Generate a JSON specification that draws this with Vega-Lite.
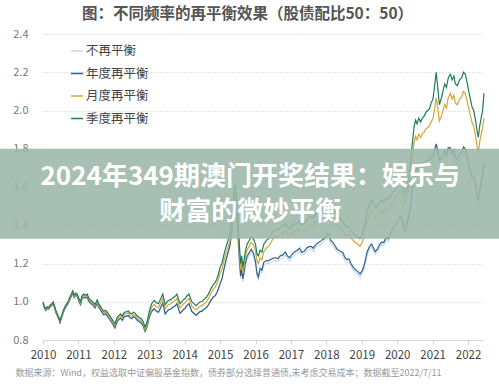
{
  "$schema": "https://vega.github.io/schema/vega-lite/v6.json",
  "autosize": {"type": "none"},
  "padding": {"left": 43, "top": 34, "right": 15, "bottom": 47},
  "width": 441,
  "height": 306,
  "background": "white",
  "config": {
    "font": "Noto Sans CJK SC",
    "view": {"stroke": null},
    "axis": {"labelOverlap": false, "labelFlush": false},
    "axisX": {
      "grid": false,
      "domainColor": "#d6d6d6",
      "tickColor": "#d6d6d6",
      "tickSize": 4,
      "tickCount": 30,
      "labelPadding": 5,
      "labelFontSize": 11.5,
      "labelColor": "#444444",
      "labelOverlap": false,
      "labelFlush": false
    },
    "axisY": {
      "domain": false,
      "ticks": false,
      "tickSize": 0,
      "tickCount": 30,
      "labelPadding": 15,
      "labelFontSize": 11,
      "labelColor": "#777777",
      "labelOverlap": false,
      "labelFlush": false,
      "gridColor": "#cccccc",
      "gridDash": [1, 2],
      "gridWidth": 1
    }
  },
  "title": {
    "text": "图：不同频率的再平衡效果（股债配比50：50）",
    "fontSize": 15.5,
    "fontWeight": "bold",
    "color": "#555555",
    "anchor": "middle",
    "frame": "group",
    "dx": -16,
    "offset": 6
  },
  "layer": [
    {
      "data": {"values": [
{"t":2010.00,"不再平衡":0.989,"年度再平衡":0.992,"月度再平衡":0.996,"季度再平衡":1.000},
{"t":2010.04,"不再平衡":0.964,"年度再平衡":0.967,"月度再平衡":0.971,"季度再平衡":0.975},
{"t":2010.08,"不再平衡":0.952,"年度再平衡":0.955,"月度再平衡":0.959,"季度再平衡":0.963},
{"t":2010.12,"不再平衡":0.964,"年度再平衡":0.967,"月度再平衡":0.971,"季度再平衡":0.975},
{"t":2010.16,"不再平衡":0.959,"年度再平衡":0.962,"月度再平衡":0.966,"季度再平衡":0.970},
{"t":2010.20,"不再平衡":0.970,"年度再平衡":0.973,"月度再平衡":0.978,"季度再平衡":0.982},
{"t":2010.25,"不再平衡":0.978,"年度再平衡":0.981,"月度再平衡":0.986,"季度再平衡":0.990},
{"t":2010.29,"不再平衡":0.988,"年度再平衡":0.991,"月度再平衡":0.996,"季度再平衡":1.000},
{"t":2010.33,"不再平衡":0.963,"年度再平衡":0.966,"月度再平衡":0.971,"季度再平衡":0.975},
{"t":2010.37,"不再平衡":0.938,"年度再平衡":0.941,"月度再平衡":0.946,"季度再平衡":0.950},
{"t":2010.41,"不再平衡":0.923,"年度再平衡":0.926,"月度再平衡":0.931,"季度再平衡":0.935},
{"t":2010.45,"不再平衡":0.906,"年度再平衡":0.909,"月度再平衡":0.914,"季度再平衡":0.918},
{"t":2010.48,"不再平衡":0.888,"年度再平衡":0.891,"月度再平衡":0.896,"季度再平衡":0.900},
{"t":2010.52,"不再平衡":0.912,"年度再平衡":0.915,"月度再平衡":0.920,"季度再平衡":0.925},
{"t":2010.57,"不再平衡":0.940,"年度再平衡":0.943,"月度再平衡":0.948,"季度再平衡":0.953},
{"t":2010.62,"不再平衡":0.962,"年度再平衡":0.965,"月度再平衡":0.970,"季度再平衡":0.975},
{"t":2010.67,"不再平衡":0.977,"年度再平衡":0.980,"月度再平衡":0.985,"季度再平衡":0.990},
{"t":2010.72,"不再平衡":0.992,"年度再平衡":0.995,"月度再平衡":1.000,"季度再平衡":1.005},
{"t":2010.76,"不再平衡":1.012,"年度再平衡":1.015,"月度再平衡":1.020,"季度再平衡":1.025},
{"t":2010.80,"不再平衡":1.027,"年度再平衡":1.030,"月度再平衡":1.035,"季度再平衡":1.040},
{"t":2010.84,"不再平衡":1.043,"年度再平衡":1.046,"月度再平衡":1.052,"季度再平衡":1.057},
{"t":2010.88,"不再平衡":1.021,"年度再平衡":1.024,"月度再平衡":1.030,"季度再平衡":1.035},
{"t":2010.92,"不再平衡":1.031,"年度再平衡":1.034,"月度再平衡":1.040,"季度再平衡":1.045},
{"t":2010.97,"不再平衡":1.026,"年度再平衡":1.029,"月度再平衡":1.035,"季度再平衡":1.040},
{"t":2011.02,"不再平衡":0.997,"年度再平衡":1.000,"月度再平衡":1.008,"季度再平衡":1.015},
{"t":2011.06,"不再平衡":0.982,"年度再平衡":0.985,"月度再平衡":0.993,"季度再平衡":1.000},
{"t":2011.10,"不再平衡":1.012,"年度再平衡":1.015,"月度再平衡":1.023,"季度再平衡":1.030},
{"t":2011.14,"不再平衡":1.022,"年度再平衡":1.025,"月度再平衡":1.033,"季度再平衡":1.040},
{"t":2011.20,"不再平衡":1.017,"年度再平衡":1.020,"月度再平衡":1.028,"季度再平衡":1.035},
{"t":2011.25,"不再平衡":1.021,"年度再平衡":1.024,"月度再平衡":1.033,"季度再平衡":1.040},
{"t":2011.29,"不再平衡":1.001,"年度再平衡":1.004,"月度再平衡":1.013,"季度再平衡":1.020},
{"t":2011.33,"不再平衡":0.991,"年度再平衡":0.994,"月度再平衡":1.003,"季度再平衡":1.010},
{"t":2011.40,"不再平衡":0.981,"年度再平衡":0.984,"月度再平衡":0.992,"季度再平衡":1.000},
{"t":2011.47,"不再平衡":0.965,"年度再平衡":0.968,"月度再平衡":0.977,"季度再平衡":0.985},
{"t":2011.53,"不再平衡":0.990,"年度再平衡":0.993,"月度再平衡":1.002,"季度再平衡":1.010},
{"t":2011.57,"不再平衡":0.970,"年度再平衡":0.973,"月度再平衡":0.982,"季度再平衡":0.990},
{"t":2011.61,"不再平衡":0.959,"年度再平衡":0.962,"月度再平衡":0.972,"季度再平衡":0.980},
{"t":2011.66,"不再平衡":0.944,"年度再平衡":0.947,"月度再平衡":0.957,"季度再平衡":0.965},
{"t":2011.71,"不再平衡":0.929,"年度再平衡":0.932,"月度再平衡":0.942,"季度再平衡":0.950},
{"t":2011.76,"不再平衡":0.934,"年度再平衡":0.937,"月度再平衡":0.947,"季度再平衡":0.955},
{"t":2011.82,"不再平衡":0.922,"年度再平衡":0.925,"月度再平衡":0.936,"季度再平衡":0.944},
{"t":2011.87,"不再平衡":0.908,"年度再平衡":0.911,"月度再平衡":0.922,"季度再平衡":0.930},
{"t":2011.91,"不再平衡":0.898,"年度再平衡":0.901,"月度再平衡":0.912,"季度再平衡":0.920},
{"t":2011.96,"不再平衡":0.883,"年度再平衡":0.886,"月度再平衡":0.897,"季度再平衡":0.905},
{"t":2012.03,"不再平衡":0.861,"年度再平衡":0.864,"月度再平衡":0.876,"季度再平衡":0.885},
{"t":2012.07,"不再平衡":0.881,"年度再平衡":0.884,"月度再平衡":0.896,"季度再平衡":0.905},
{"t":2012.10,"不再平衡":0.896,"年度再平衡":0.899,"月度再平衡":0.911,"季度再平衡":0.920},
{"t":2012.15,"不再平衡":0.906,"年度再平衡":0.909,"月度再平衡":0.921,"季度再平衡":0.930},
{"t":2012.19,"不再平衡":0.912,"年度再平衡":0.915,"月度再平衡":0.928,"季度再平衡":0.937},
{"t":2012.24,"不再平衡":0.900,"年度再平衡":0.903,"月度再平衡":0.916,"季度再平衡":0.925},
{"t":2012.29,"不再平衡":0.919,"年度再平衡":0.922,"月度再平衡":0.935,"季度再平衡":0.944},
{"t":2012.35,"不再平衡":0.922,"年度再平衡":0.925,"月度再平衡":0.938,"季度再平衡":0.948},
{"t":2012.41,"不再平衡":0.925,"年度再平衡":0.928,"月度再平衡":0.942,"季度再平衡":0.952},
{"t":2012.46,"不再平衡":0.913,"年度再平衡":0.916,"月度再平衡":0.929,"季度再平衡":0.940},
{"t":2012.51,"不再平衡":0.909,"年度再平衡":0.912,"月度再平衡":0.925,"季度再平衡":0.937},
{"t":2012.55,"不再平衡":0.920,"年度再平衡":0.923,"月度再平衡":0.933,"季度再平衡":0.945},
{"t":2012.60,"不再平衡":0.915,"年度再平衡":0.918,"月度再平衡":0.928,"季度再平衡":0.940},
{"t":2012.65,"不再平衡":0.903,"年度再平衡":0.906,"月度再平衡":0.916,"季度再平衡":0.928},
{"t":2012.70,"不再平衡":0.895,"年度再平衡":0.898,"月度再平衡":0.908,"季度再平衡":0.920},
{"t":2012.74,"不再平衡":0.890,"年度再平衡":0.893,"月度再平衡":0.903,"季度再平衡":0.915},
{"t":2012.78,"不再平衡":0.885,"年度再平衡":0.888,"月度再平衡":0.898,"季度再平衡":0.910},
{"t":2012.83,"不再平衡":0.870,"年度再平衡":0.873,"月度再平衡":0.883,"季度再平衡":0.895},
{"t":2012.88,"不再平衡":0.843,"年度再平衡":0.846,"月度再平衡":0.856,"季度再平衡":0.868},
{"t":2012.92,"不再平衡":0.858,"年度再平衡":0.861,"月度再平衡":0.872,"季度再平衡":0.885},
{"t":2012.95,"不再平衡":0.876,"年度再平衡":0.879,"月度再平衡":0.891,"季度再平衡":0.905},
{"t":2013.00,"不再平衡":0.915,"年度再平衡":0.918,"月度再平衡":0.934,"季度再平衡":0.950},
{"t":2013.04,"不再平衡":0.935,"年度再平衡":0.938,"月度再平衡":0.957,"季度再平衡":0.975},
{"t":2013.07,"不再平衡":0.947,"年度再平衡":0.950,"月度再平衡":0.970,"季度再平衡":0.990},
{"t":2013.11,"不再平衡":0.955,"年度再平衡":0.958,"月度再平衡":0.980,"季度再平衡":1.000},
{"t":2013.14,"不再平衡":0.961,"年度再平衡":0.964,"月度再平衡":0.986,"季度再平衡":1.007},
{"t":2013.20,"不再平衡":0.948,"年度再平衡":0.951,"月度再平衡":0.974,"季度再平衡":0.995},
{"t":2013.26,"不再平衡":0.942,"年度再平衡":0.945,"月度再平衡":0.969,"季度再平衡":0.990},
{"t":2013.32,"不再平衡":0.966,"年度再平衡":0.969,"月度再平衡":0.994,"季度再平衡":1.015},
{"t":2013.38,"不再平衡":0.990,"年度再平衡":0.993,"月度再平衡":1.019,"季度再平衡":1.040},
{"t":2013.42,"不再平衡":0.960,"年度再平衡":0.963,"月度再平衡":0.989,"季度再平衡":1.010},
{"t":2013.45,"不再平衡":0.934,"年度再平衡":0.937,"月度再平衡":0.964,"季度再平衡":0.985},
{"t":2013.49,"不再平衡":0.944,"年度再平衡":0.947,"月度再平衡":0.973,"季度再平衡":0.995},
{"t":2013.54,"不再平衡":0.955,"年度再平衡":0.958,"月度再平衡":0.985,"季度再平衡":1.007},
{"t":2013.59,"不再平衡":0.958,"年度再平衡":0.961,"月度再平衡":0.988,"季度再平衡":1.010},
{"t":2013.64,"不再平衡":0.964,"年度再平衡":0.967,"月度再平衡":0.994,"季度再平衡":1.016},
{"t":2013.70,"不再平衡":0.972,"年度再平衡":0.975,"月度再平衡":1.003,"季度再平衡":1.025},
{"t":2013.74,"不再平衡":0.977,"年度再平衡":0.980,"月度再平衡":1.008,"季度再平衡":1.030},
{"t":2013.78,"不再平衡":0.987,"年度再平衡":0.990,"月度再平衡":1.018,"季度再平衡":1.040},
{"t":2013.83,"不再平衡":0.957,"年度再平衡":0.960,"月度再平衡":0.988,"季度再平衡":1.010},
{"t":2013.87,"不再平衡":0.937,"年度再平衡":0.940,"月度再平衡":0.968,"季度再平衡":0.990},
{"t":2013.92,"不再平衡":0.947,"年度再平衡":0.950,"月度再平衡":0.978,"季度再平衡":1.000},
{"t":2013.96,"不再平衡":0.957,"年度再平衡":0.960,"月度再平衡":0.988,"季度再平衡":1.010},
{"t":2014.01,"不再平衡":0.963,"年度再平衡":0.966,"月度再平衡":0.994,"季度再平衡":1.016},
{"t":2014.06,"不再平衡":0.977,"年度再平衡":0.980,"月度再平衡":1.007,"季度再平衡":1.030},
{"t":2014.12,"不再平衡":0.987,"年度再平衡":0.990,"月度再平衡":1.017,"季度再平衡":1.040},
{"t":2014.16,"不再平衡":0.967,"年度再平衡":0.970,"月度再平衡":0.997,"季度再平衡":1.020},
{"t":2014.20,"不再平衡":0.947,"年度再平衡":0.950,"月度再平衡":0.977,"季度再平衡":1.000},
{"t":2014.26,"不再平衡":0.937,"年度再平衡":0.940,"月度再平衡":0.967,"季度再平衡":0.990},
{"t":2014.33,"不再平衡":0.927,"年度再平衡":0.930,"月度再平衡":0.957,"季度再平衡":0.980},
{"t":2014.38,"不再平衡":0.937,"年度再平衡":0.940,"月度再平衡":0.967,"季度再平衡":0.990},
{"t":2014.44,"不再平衡":0.947,"年度再平衡":0.950,"月度再平衡":0.977,"季度再平衡":1.000},
{"t":2014.48,"不再平衡":0.947,"年度再平衡":0.950,"月度再平衡":0.977,"季度再平衡":1.000},
{"t":2014.53,"不再平衡":0.956,"年度再平衡":0.959,"月度再平衡":0.987,"季度再平衡":1.010},
{"t":2014.57,"不再平衡":0.961,"年度再平衡":0.964,"月度再平衡":0.992,"季度再平衡":1.016},
{"t":2014.62,"不再平衡":0.968,"年度再平衡":0.971,"月度再平衡":1.001,"季度再平衡":1.025},
{"t":2014.67,"不再平衡":0.981,"年度再平衡":0.984,"月度再平衡":1.016,"季度再平衡":1.040},
{"t":2014.72,"不再平衡":0.999,"年度再平衡":1.002,"月度再平衡":1.036,"季度再平衡":1.060},
{"t":2014.76,"不再平衡":1.011,"年度再平衡":1.014,"月度再平衡":1.051,"季度再平衡":1.075},
{"t":2014.81,"不再平衡":1.023,"年度再平衡":1.026,"月度再平衡":1.066,"季度再平衡":1.090},
{"t":2014.86,"不再平衡":1.029,"年度再平衡":1.032,"月度再平衡":1.076,"季度再平衡":1.100},
{"t":2014.91,"不再平衡":1.045,"年度再平衡":1.048,"月度再平衡":1.095,"季度再平衡":1.120},
{"t":2014.96,"不再平衡":1.069,"年度再平衡":1.072,"月度再平衡":1.123,"季度再平衡":1.150},
{"t":2015.00,"不再平衡":1.092,"年度再平衡":1.095,"月度再平衡":1.150,"季度再平衡":1.180},
{"t":2015.05,"不再平衡":1.113,"年度再平衡":1.118,"月度再平衡":1.169,"季度再平衡":1.200},
{"t":2015.10,"不再平衡":1.157,"年度再平衡":1.163,"月度再平衡":1.209,"季度再平衡":1.240},
{"t":2015.14,"不再平衡":1.191,"年度再平衡":1.198,"月度再平衡":1.238,"季度再平衡":1.270},
{"t":2015.19,"不再平衡":1.227,"年度再平衡":1.235,"月度再平衡":1.267,"季度再平衡":1.300},
{"t":2015.24,"不再平衡":1.261,"年度再平衡":1.270,"月度再平衡":1.296,"季度再平衡":1.330},
{"t":2015.28,"不再平衡":1.290,"年度再平衡":1.300,"月度再平衡":1.320,"季度再平衡":1.355},
{"t":2015.32,"不再平衡":1.344,"年度再平衡":1.355,"月度再平衡":1.384,"季度再平衡":1.420},
{"t":2015.36,"不再平衡":1.416,"年度再平衡":1.428,"月度再平衡":1.463,"季度再平衡":1.500},
{"t":2015.40,"不再平衡":1.487,"年度再平衡":1.500,"月度再平衡":1.542,"季度再平衡":1.580},
{"t":2015.43,"不再平衡":1.516,"年度再平衡":1.530,"月度再平衡":1.580,"季度再平衡":1.620},
{"t":2015.46,"不再平衡":1.458,"年度再平衡":1.472,"月度再平衡":1.521,"季度再平衡":1.560},
{"t":2015.49,"不再平衡":1.381,"年度再平衡":1.395,"月度再平衡":1.442,"季度再平衡":1.480},
{"t":2015.52,"不再平衡":1.286,"年度再平衡":1.300,"月度再平衡":1.343,"季度再平衡":1.380},
{"t":2015.55,"不再平衡":1.193,"年度再平衡":1.207,"月度再平衡":1.245,"季度再平衡":1.280},
{"t":2015.58,"不再平衡":1.120,"年度再平衡":1.135,"月度再平衡":1.167,"季度再平衡":1.200},
{"t":2015.61,"不再平衡":1.165,"年度再平衡":1.180,"月度再平衡":1.208,"季度再平衡":1.240},
{"t":2015.64,"不再平衡":1.105,"年度再平衡":1.120,"月度再平衡":1.149,"季度再平衡":1.180},
{"t":2015.67,"不再平衡":1.135,"年度再平衡":1.150,"月度再平衡":1.180,"季度再平衡":1.210},
{"t":2015.71,"不再平衡":1.183,"年度再平衡":1.198,"月度再平衡":1.230,"季度再平衡":1.260},
{"t":2015.76,"不再平衡":1.222,"年度再平衡":1.237,"月度再平衡":1.270,"季度再平衡":1.300},
{"t":2015.82,"不再平衡":1.241,"年度再平衡":1.256,"月度再平衡":1.290,"季度再平衡":1.320},
{"t":2015.88,"不再平衡":1.260,"年度再平衡":1.275,"月度再平衡":1.310,"季度再平衡":1.340},
{"t":2015.94,"不再平衡":1.240,"年度再平衡":1.255,"月度再平衡":1.299,"季度再平衡":1.330},
{"t":2016.00,"不再平衡":1.195,"年度再平衡":1.210,"月度再平衡":1.266,"季度再平衡":1.300},
{"t":2016.04,"不再平衡":1.135,"年度再平衡":1.150,"月度再平衡":1.213,"季度再平衡":1.250},
{"t":2016.08,"不再平衡":1.115,"年度再平衡":1.130,"月度再平衡":1.200,"季度再平衡":1.240},
{"t":2016.13,"不再平衡":1.160,"年度再平衡":1.175,"月度再平衡":1.230,"季度再平衡":1.270},
{"t":2016.18,"不再平衡":1.150,"年度再平衡":1.165,"月度再平衡":1.220,"季度再平衡":1.260},
{"t":2016.23,"不再平衡":1.190,"年度再平衡":1.205,"月度再平衡":1.260,"季度再平衡":1.300},
{"t":2016.30,"不再平衡":1.200,"年度再平衡":1.215,"月度再平衡":1.280,"季度再平衡":1.320},
{"t":2016.37,"不再平衡":1.200,"年度再平衡":1.215,"月度再平衡":1.291,"季度再平衡":1.330},
{"t":2016.44,"不再平衡":1.207,"年度再平衡":1.222,"月度再平衡":1.311,"季度再平衡":1.350},
{"t":2016.50,"不再平衡":1.213,"年度再平衡":1.228,"月度再平衡":1.332,"季度再平衡":1.370},
{"t":2016.57,"不再平衡":1.215,"年度再平衡":1.230,"月度再平衡":1.342,"季度再平衡":1.380},
{"t":2016.63,"不再平衡":1.210,"年度再平衡":1.225,"月度再平衡":1.338,"季度再平衡":1.375},
{"t":2016.70,"不再平衡":1.225,"年度再平衡":1.240,"月度再平衡":1.353,"季度再平衡":1.390},
{"t":2016.77,"不再平衡":1.230,"年度再平衡":1.245,"月度再平衡":1.359,"季度再平衡":1.395},
{"t":2016.84,"不再平衡":1.245,"年度再平衡":1.260,"月度再平衡":1.374,"季度再平衡":1.410},
{"t":2016.90,"不再平衡":1.225,"年度再平衡":1.240,"月度再平衡":1.355,"季度再平衡":1.390},
{"t":2016.96,"不再平衡":1.215,"年度再平衡":1.230,"月度再平衡":1.345,"季度再平衡":1.380},
{"t":2017.03,"不再平衡":1.233,"年度再平衡":1.248,"月度再平衡":1.359,"季度再平衡":1.395},
{"t":2017.10,"不再平衡":1.245,"年度再平衡":1.260,"月度再平衡":1.368,"季度再平衡":1.405},
{"t":2017.17,"不再平衡":1.253,"年度再平衡":1.268,"月度再平衡":1.372,"季度再平衡":1.410},
{"t":2017.24,"不再平衡":1.265,"年度再平衡":1.280,"月度再平衡":1.381,"季度再平衡":1.420},
{"t":2017.31,"不再平衡":1.243,"年度再平衡":1.258,"月度再平衡":1.360,"季度再平衡":1.400},
{"t":2017.38,"不再平衡":1.250,"年度再平衡":1.265,"月度再平衡":1.369,"季度再平衡":1.410},
{"t":2017.45,"不再平衡":1.267,"年度再平衡":1.282,"月度再平衡":1.388,"季度再平衡":1.430},
{"t":2017.52,"不再平衡":1.273,"年度再平衡":1.288,"月度再平衡":1.397,"季度再平衡":1.440},
{"t":2017.58,"不再平衡":1.275,"年度再平衡":1.290,"月度再平衡":1.401,"季度再平衡":1.445},
{"t":2017.63,"不再平衡":1.265,"年度再平衡":1.280,"月度再平衡":1.395,"季度再平衡":1.440},
{"t":2017.70,"不再平衡":1.284,"年度再平衡":1.299,"月度再平衡":1.414,"季度再平衡":1.460},
{"t":2017.77,"不再平衡":1.293,"年度再平衡":1.308,"月度再平衡":1.423,"季度再平衡":1.470},
{"t":2017.84,"不再平衡":1.302,"年度再平衡":1.317,"月度再平衡":1.432,"季度再平衡":1.480},
{"t":2017.90,"不再平衡":1.311,"年度再平衡":1.326,"月度再平衡":1.441,"季度再平衡":1.490},
{"t":2017.96,"不再平衡":1.318,"年度再平衡":1.333,"月度再平衡":1.450,"季度再平衡":1.500},
{"t":2018.03,"不再平衡":1.342,"年度再平衡":1.357,"月度再平衡":1.480,"季度再平衡":1.530},
{"t":2018.08,"不再平衡":1.342,"年度再平衡":1.357,"月度再平衡":1.485,"季度再平衡":1.535},
{"t":2018.12,"不再平衡":1.305,"年度再平衡":1.320,"月度再平衡":1.450,"季度再平衡":1.500},
{"t":2018.18,"不再平衡":1.297,"年度再平衡":1.312,"月度再平衡":1.440,"季度再平衡":1.490},
{"t":2018.24,"不再平衡":1.279,"年度再平衡":1.294,"月度再平衡":1.420,"季度再平衡":1.470},
{"t":2018.30,"不再平衡":1.261,"年度再平衡":1.276,"月度再平衡":1.400,"季度再平衡":1.450},
{"t":2018.36,"不再平衡":1.253,"年度再平衡":1.268,"月度再平衡":1.390,"季度再平衡":1.440},
{"t":2018.42,"不再平衡":1.246,"年度再平衡":1.261,"月度再平衡":1.380,"季度再平衡":1.430},
{"t":2018.47,"不再平衡":1.240,"年度再平衡":1.255,"月度再平衡":1.370,"季度再平衡":1.420},
{"t":2018.52,"不再平衡":1.218,"年度再平衡":1.233,"月度再平衡":1.352,"季度再平衡":1.400},
{"t":2018.58,"不再平衡":1.206,"年度再平衡":1.221,"月度再平衡":1.345,"季度再平衡":1.390},
{"t":2018.64,"不再平衡":1.209,"年度再平衡":1.224,"月度再平衡":1.353,"季度再平衡":1.395},
{"t":2018.70,"不再平衡":1.182,"年度再平衡":1.197,"月度再平衡":1.331,"季度再平衡":1.370},
{"t":2018.76,"不再平衡":1.165,"年度再平衡":1.180,"月度再平衡":1.320,"季度再平衡":1.355},
{"t":2018.82,"不再平衡":1.152,"年度再平衡":1.167,"月度再平衡":1.309,"季度再平衡":1.345},
{"t":2018.88,"不再平衡":1.144,"年度再平衡":1.159,"月度再平衡":1.302,"季度再平衡":1.340},
{"t":2018.95,"不再平衡":1.130,"年度再平衡":1.145,"月度再平衡":1.290,"季度再平衡":1.330},
{"t":2019.02,"不再平衡":1.150,"年度再平衡":1.165,"月度再平衡":1.314,"季度再平衡":1.355},
{"t":2019.08,"不再平衡":1.185,"年度再平衡":1.200,"月度再平衡":1.357,"季度再平衡":1.400},
{"t":2019.15,"不再平衡":1.245,"年度再平衡":1.260,"月度再平衡":1.425,"季度再平衡":1.470},
{"t":2019.22,"不再平衡":1.275,"年度再平衡":1.290,"月度再平衡":1.463,"季度再平衡":1.510},
{"t":2019.28,"不再平衡":1.287,"年度再平衡":1.302,"月度再平衡":1.481,"季度再平衡":1.530},
{"t":2019.33,"不再平衡":1.265,"年度再平衡":1.280,"月度再平衡":1.460,"季度再平衡":1.510},
{"t":2019.38,"不再平衡":1.247,"年度再平衡":1.262,"月度再平衡":1.439,"季度再平衡":1.490},
{"t":2019.44,"不再平衡":1.260,"年度再平衡":1.275,"月度再平衡":1.448,"季度再平衡":1.500},
{"t":2019.50,"不再平衡":1.283,"年度再平衡":1.298,"月度再平衡":1.467,"季度再平衡":1.520},
{"t":2019.56,"不再平衡":1.297,"年度再平衡":1.312,"月度再平衡":1.476,"季度再平衡":1.530},
{"t":2019.62,"不再平衡":1.295,"年度再平衡":1.310,"月度再平衡":1.465,"季度再平衡":1.520},
{"t":2019.68,"不再平衡":1.319,"年度再平衡":1.334,"月度再平衡":1.486,"季度再平衡":1.540},
{"t":2019.74,"不再平衡":1.313,"年度再平衡":1.328,"月度再平衡":1.477,"季度再平衡":1.530},
{"t":2019.80,"不再平衡":1.337,"年度再平衡":1.352,"月度再平衡":1.498,"季度再平衡":1.550},
{"t":2019.86,"不再平衡":1.361,"年度再平衡":1.376,"月度再平衡":1.519,"季度再平衡":1.570},
{"t":2019.92,"不再平衡":1.370,"年度再平衡":1.390,"月度再平衡":1.530,"季度再平衡":1.580},
{"t":2019.98,"不再平衡":1.392,"年度再平衡":1.412,"月度再平衡":1.550,"季度再平衡":1.600},
{"t":2020.04,"不再平衡":1.413,"年度再平衡":1.435,"月度再平衡":1.570,"季度再平衡":1.620},
{"t":2020.10,"不再平衡":1.426,"年度再平衡":1.448,"月度再平衡":1.580,"季度再平衡":1.630},
{"t":2020.16,"不再平衡":1.395,"年度再平衡":1.418,"月度再平衡":1.550,"季度再平衡":1.600},
{"t":2020.21,"不再平衡":1.349,"年度再平衡":1.372,"月度再平衡":1.510,"季度再平衡":1.560},
{"t":2020.26,"不再平衡":1.375,"年度再平衡":1.398,"月度再平衡":1.538,"季度再平衡":1.590},
{"t":2020.31,"不再平衡":1.416,"年度再平衡":1.440,"月度再平衡":1.584,"季度再平衡":1.640},
{"t":2020.36,"不再平衡":1.456,"年度再平衡":1.480,"月度再平衡":1.629,"季度再平衡":1.690},
{"t":2020.40,"不再平衡":1.531,"年度再平衡":1.555,"月度再平衡":1.712,"季度再平衡":1.780},
{"t":2020.44,"不再平衡":1.588,"年度再平衡":1.612,"月度再平衡":1.776,"季度再平衡":1.850},
{"t":2020.48,"不再平衡":1.647,"年度再平衡":1.672,"月度再平衡":1.838,"季度再平衡":1.920},
{"t":2020.52,"不再平衡":1.675,"年度再平衡":1.700,"月度再平衡":1.865,"季度再平衡":1.950},
{"t":2020.56,"不再平衡":1.659,"年度再平衡":1.684,"月度再平衡":1.846,"季度再平衡":1.930},
{"t":2020.61,"不再平衡":1.693,"年度再平衡":1.718,"月度再平衡":1.877,"季度再平衡":1.960},
{"t":2020.66,"不再平衡":1.677,"年度再平衡":1.702,"月度再平衡":1.858,"季度再平衡":1.940},
{"t":2020.71,"不再平衡":1.703,"年度再平衡":1.728,"月度再平衡":1.880,"季度再平衡":1.960},
{"t":2020.76,"不再平衡":1.703,"年度再平衡":1.728,"月度再平衡":1.887,"季度再平衡":1.970},
{"t":2020.81,"不再平衡":1.715,"年度再平衡":1.740,"月度再平衡":1.904,"季度再平衡":1.990},
{"t":2020.86,"不再平衡":1.715,"年度再平衡":1.740,"月度再平衡":1.911,"季度再平衡":2.000},
{"t":2020.91,"不再平衡":1.715,"年度再平衡":1.740,"月度再平衡":1.920,"季度再平衡":2.010},
{"t":2020.96,"不再平衡":1.732,"年度再平衡":1.757,"月度再平衡":1.943,"季度再平衡":2.040},
{"t":2021.01,"不再平衡":1.737,"年度再平衡":1.762,"月度再平衡":1.955,"季度再平衡":2.060},
{"t":2021.05,"不再平衡":1.765,"年度再平衡":1.790,"月度再平衡":2.002,"季度再平衡":2.120},
{"t":2021.10,"不再平衡":1.800,"年度再平衡":1.825,"月度再平衡":2.065,"季度再平衡":2.200},
{"t":2021.14,"不再平衡":1.770,"年度再平衡":1.795,"月度再平衡":2.020,"季度再平衡":2.130},
{"t":2021.19,"不再平衡":1.715,"年度再平衡":1.740,"月度再平衡":1.945,"季度再平衡":2.030},
{"t":2021.24,"不再平衡":1.725,"年度再平衡":1.750,"月度再平衡":1.967,"季度再平衡":2.060},
{"t":2021.29,"不再平衡":1.745,"年度再平衡":1.770,"月度再平衡":1.999,"季度再平衡":2.100},
{"t":2021.34,"不再平衡":1.768,"年度再平衡":1.793,"月度再平衡":2.032,"季度再平衡":2.140},
{"t":2021.39,"不再平衡":1.740,"年度再平衡":1.765,"月度再平衡":2.013,"季度再平衡":2.120},
{"t":2021.44,"不再平衡":1.781,"年度再平衡":1.806,"月度再平衡":2.066,"季度再平衡":2.170},
{"t":2021.50,"不再平衡":1.780,"年度再平衡":1.805,"月度再平衡":2.090,"季度再平衡":2.190},
{"t":2021.55,"不再平衡":1.750,"年度再平衡":1.775,"月度再平衡":2.060,"季度再平衡":2.160},
{"t":2021.60,"不再平衡":1.770,"年度再平衡":1.795,"月度再平衡":2.080,"季度再平衡":2.180},
{"t":2021.64,"不再平衡":1.730,"年度再平衡":1.755,"月度再平衡":2.040,"季度再平衡":2.140},
{"t":2021.70,"不再平衡":1.718,"年度再平衡":1.743,"月度再平衡":2.030,"季度再平衡":2.130},
{"t":2021.76,"不再平衡":1.747,"年度再平衡":1.772,"月度再平衡":2.060,"季度再平衡":2.160},
{"t":2021.82,"不再平衡":1.756,"年度再平衡":1.781,"月度再平衡":2.070,"季度再平衡":2.170},
{"t":2021.87,"不再平衡":1.785,"年度再平衡":1.810,"月度再平衡":2.100,"季度再平衡":2.200},
{"t":2021.92,"不再平衡":1.775,"年度再平衡":1.800,"月度再平衡":2.090,"季度再平衡":2.190},
{"t":2021.97,"不再平衡":1.740,"年度再平衡":1.765,"月度再平衡":2.053,"季度再平衡":2.150},
{"t":2022.02,"不再平衡":1.695,"年度再平衡":1.720,"月度再平衡":2.008,"季度再平衡":2.100},
{"t":2022.06,"不再平衡":1.665,"年度再平衡":1.690,"月度再平衡":1.980,"季度再平衡":2.065},
{"t":2022.11,"不再平衡":1.631,"年度再平衡":1.656,"月度再平衡":1.937,"季度再平衡":2.020},
{"t":2022.16,"不再平衡":1.625,"年度再平衡":1.650,"月度再平衡":1.918,"季度再平衡":2.000},
{"t":2022.20,"不再平衡":1.605,"年度再平衡":1.630,"月度再平衡":1.880,"季度再平衡":1.960},
{"t":2022.25,"不再平衡":1.545,"年度再平衡":1.570,"月度再平衡":1.820,"季度再平衡":1.900},
{"t":2022.29,"不再平衡":1.505,"年度再平衡":1.530,"月度再平衡":1.780,"季度再平衡":1.860},
{"t":2022.33,"不再平衡":1.565,"年度再平衡":1.590,"月度再平衡":1.838,"季度再平衡":1.920},
{"t":2022.37,"不再平衡":1.605,"年度再平衡":1.630,"月度再平衡":1.875,"季度再平衡":1.960},
{"t":2022.41,"不再平衡":1.640,"年度再平衡":1.665,"月度再平衡":1.910,"季度再平衡":2.000},
{"t":2022.45,"不再平衡":1.695,"年度再平衡":1.720,"月度再平衡":1.960,"季度再平衡":2.090}
      ]},
      "transform": [
        {"fold": ["不再平衡", "年度再平衡", "月度再平衡", "季度再平衡"], "as": ["series", "value"]}
      ],
      "mark": {"type": "line", "strokeWidth": 1.2},
      "encoding": {
        "x": {
          "field": "t", "type": "quantitative",
          "scale": {"domain": [2010, 2022.45], "nice": false, "zero": false},
          "axis": {
            "values": [2010, 2011, 2012, 2013, 2014, 2015, 2016, 2017, 2018, 2019, 2020, 2021, 2022],
            "tickCount": 30,
            "format": "d",
            "labelOverlap": false,
            "title": "数据来源：Wind，权益选取中证偏股基金指数，债券部分选择普通债,未考虑交易成本；数据截至2022/7/11",
            "titleAnchor": "start",
            "titleAlign": "left",
            "titleBaseline": "middle",
            "titleX": -28,
            "titleY": 32,
            "titleFontSize": 9,
            "titleFontWeight": "normal",
            "titleColor": "#999999"
          }
        },
        "y": {
          "field": "value", "type": "quantitative",
          "scale": {"domain": [0.8, 2.4], "nice": false, "zero": false},
          "axis": {
            "values": [0.8, 1.0, 1.2, 1.4, 1.6, 1.8, 2.0, 2.2, 2.4],
            "tickCount": 30,
            "format": ".1f",
            "labelOverlap": false,
            "title": null
          }
        },
        "color": {
          "field": "series", "type": "nominal",
          "scale": {
            "domain": ["不再平衡", "年度再平衡", "月度再平衡", "季度再平衡"],
            "range": ["#c9d7e6", "#2d6390", "#d3a636", "#1f7d5a"]
          },
          "legend": {
            "title": null,
            "orient": "none",
            "legendX": 27,
            "legendY": 10,
            "padding": 0,
            "symbolType": "stroke",
            "symbolSize": 144,
            "symbolStrokeWidth": 1.5,
            "labelFontSize": 12.5,
            "labelColor": "#444444",
            "labelOffset": 2,
            "rowPadding": 8.5
          }
        }
      }
    },
    {
      "data": {"values": [{"banner": "overlay"}]},
      "mark": {"type": "rect", "fill": "#9cb7a8", "opacity": 0.88},
      "encoding": {
        "x": {"datum": 2008.7, "type": "quantitative"},
        "x2": {"datum": 2023.2},
        "y": {"datum": 1.33, "type": "quantitative"},
        "y2": {"datum": 1.80}
      }
    },
    {
      "data": {"values": [{"banner": "overlay"}]},
      "mark": {
        "type": "text",
        "fontSize": 26,
        "fontWeight": "bold",
        "color": "#ffffff",
        "align": "center",
        "baseline": "middle",
        "lineHeight": 35,
        "text": ["2024年349期澳门开奖结果：娱乐与", "财富的微妙平衡"]
      },
      "encoding": {
        "x": {"datum": 2015.85, "type": "quantitative"},
        "y": {"datum": 1.652, "type": "quantitative"}
      }
    }
  ]
}
